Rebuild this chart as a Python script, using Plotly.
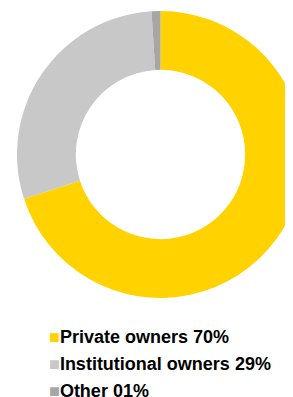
import plotly.graph_objects as go

labels = ["Private owners", "Institutional owners", "Other"]
values = [70, 29, 1]
value_text = ["70%", "29%", "01%"]
colors = ["#FFD200", "#C8C8C8", "#A6A6A6"]

W, H = 320, 397
OFF = 8  # page body margin
CX, CY, R = 160.5, 154.5, 143.5
fig = go.Figure()
fig.add_trace(go.Pie(
    labels=labels, values=values, hole=0.59, sort=False, direction="clockwise",
    rotation=0, marker=dict(colors=colors, line=dict(width=0)),
    textinfo="none", hoverinfo="label+percent", showlegend=False,
    domain=dict(x=[(CX - R - OFF) / W, (CX + R - OFF) / W],
                y=[1 - (CY + R - OFF) / H, 1 - (CY - R - OFF) / H]),
))

for i, (lab, vt, col) in enumerate(zip(labels, value_text, colors)):
    fig.add_annotation(
        x=(47 - OFF) / W, y=1 - (337 - OFF + i * 27) / H, xref="paper", yref="paper",
        xanchor="left", yanchor="middle", showarrow=False,
        text=f"<span style='color:{col}'>■</span><b>{lab} {vt}</b>",
        font=dict(family="Liberation Sans, Arial, sans-serif", size=18, color="#000000"),
    )

fig.update_layout(width=W, height=H, margin=dict(l=0, r=0, t=0, b=0),
                  paper_bgcolor="white", plot_bgcolor="white")
fig.write_html("out.html")
